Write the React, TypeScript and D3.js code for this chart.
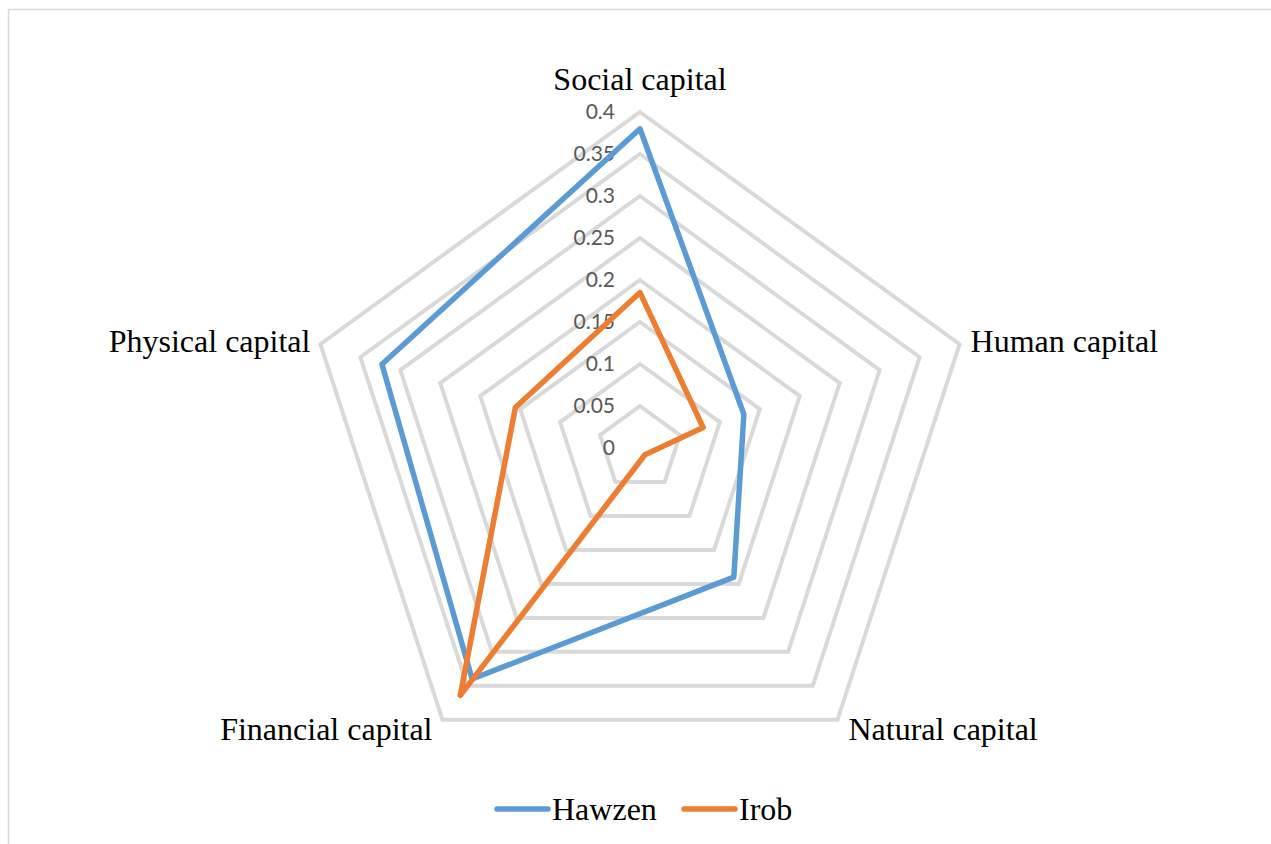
import React, { useEffect, useRef } from "react";
import * as d3 from "d3";

// capitals, clockwise from the top
const categories = [
  "Social capital",
  "Human capital",
  "Natural capital",
  "Financial capital",
  "Physical capital",
];
const hawzen = [0.38, 0.13, 0.19, 0.34, 0.323];
const irob = [0.185, 0.079, 0.01, 0.364, 0.156];
const ticks = [0, 0.05, 0.1, 0.15, 0.2, 0.25, 0.3, 0.35, 0.4];
const seriesNames = ["Hawzen", "Irob"];
const seriesColors = ["#5b9bd5", "#ed7d31"];

const W = 1271;
const H = 844;

const App = () => {
  const svgRef = useRef<SVGSVGElement>(null);

  useEffect(() => {
    const svg = d3.select(svgRef.current);
    svg.selectAll("*").remove();

    const cx = 640;
    const cy = 448;
    const r = d3.scaleLinear().domain([0, 0.4]).range([0, 336]);
    const angle = (i: number) => (i * 2 * Math.PI) / categories.length;
    const pt = (i: number, v: number): [number, number] => [
      cx + r(v) * Math.sin(angle(i)),
      cy - r(v) * Math.cos(angle(i)),
    ];

    // chart area border
    svg
      .append("rect")
      .attr("x", 8.5)
      .attr("y", 9.5)
      .attr("width", 1400)
      .attr("height", 1000)
      .attr("fill", "white")
      .attr("stroke", "#d9d9d9")
      .attr("stroke-width", 1.5);

    const line = d3.line<[number, number]>().curve(d3.curveLinearClosed);

    // grid rings
    ticks.forEach((t) => {
      if (t === 0) return;
      svg
        .append("path")
        .attr("d", line(categories.map((_, i) => pt(i, t))))
        .attr("fill", "none")
        .attr("stroke", "#d9d9d9")
        .attr("stroke-width", 4);
    });

    // tick labels
    ticks.forEach((t) => {
      svg
        .append("text")
        .attr("x", cx - 25)
        .attr("y", cy - r(t))
        .attr("dy", "0.35em")
        .attr("text-anchor", "end")
        .attr("font-family", "Lato, 'Open Sans', sans-serif")
        .attr("font-size", 21)
        .attr("fill", "#595959")
        .text(String(t));
    });

    // category labels
    categories.forEach((c, i) => {
      const [x, y] = pt(i, 0.4);
      const s = Math.sin(angle(i));
      const co = Math.cos(angle(i));
      let tx = x;
      let ty = y;
      let anchor = "middle";
      if (Math.abs(s) < 0.1) {
        ty = y - 22;
      } else {
        anchor = s > 0 ? "start" : "end";
        tx = x + (s > 0 ? 11 : -10);
        ty = co > 0 ? y + 8 : y + 20;
      }
      svg
        .append("text")
        .attr("x", tx)
        .attr("y", ty)
        .attr("text-anchor", anchor)
        .attr("font-family", "'Liberation Serif', 'Times New Roman', serif")
        .attr("font-size", 32)
        .attr("fill", "#000")
        .text(c);
    });

    // series
    [hawzen, irob].forEach((vals, k) => {
      svg
        .append("path")
        .attr("d", line(vals.map((v, i) => pt(i, v))))
        .attr("fill", "none")
        .attr("stroke", seriesColors[k])
        .attr("stroke-width", 5.5)
        .attr("stroke-linejoin", "round");
    });

    // legend
    const legendX = [495, 682];
    seriesNames.forEach((n, k) => {
      const g = svg.append("g").attr("transform", `translate(${legendX[k]},809)`);
      g.append("line")
        .attr("x1", 2)
        .attr("x2", 53)
        .attr("stroke", seriesColors[k])
        .attr("stroke-width", 5.5)
        .attr("stroke-linecap", "round");
      g.append("text")
        .attr("x", 57)
        .attr("y", 11)
        .attr("font-family", "'Liberation Serif', 'Times New Roman', serif")
        .attr("font-size", 32)
        .attr("fill", "#000")
        .text(n);
    });
  }, []);

  return (
    <svg
      ref={svgRef}
      width={W}
      height={H}
      style={{ position: "absolute", left: 0, top: 0, background: "white" }}
    ></svg>
  );
};

export default App;
